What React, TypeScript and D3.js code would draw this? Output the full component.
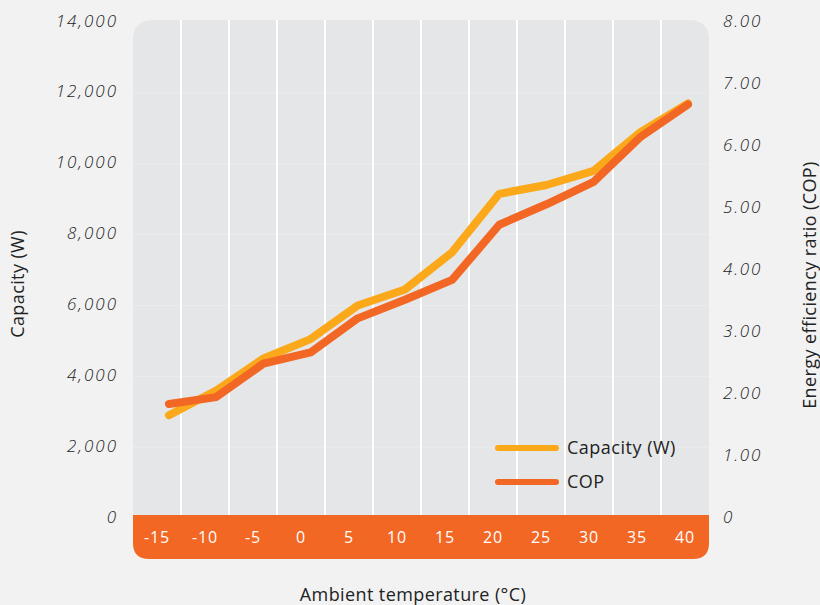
import React from "react";
import * as d3 from "d3";

// data
const temps = ["-15", "-10", "-5", "0", "5", "10", "15", "20", "25", "30", "35", "40"];
const capacity = [2900, 3600, 4500, 5050, 6000, 6450, 7500, 9150, 9400, 9800, 10900, 11700];
const cop = [1.84, 1.95, 2.49, 2.67, 3.22, 3.52, 3.84, 4.73, 5.06, 5.42, 6.15, 6.67];
const capTicks = [0, 2000, 4000, 6000, 8000, 10000, 12000, 14000];
const copTicks = [0, 1, 2, 3, 4, 5, 6, 7, 8];

const W = 820;
const H = 605;
const left = 133;
const right = 709;
const top = 20;
const bandTop = 515;
const bandBottom = 559;

const YELLOW = "#FBA91B";
const ORANGE = "#F26724";
const font = "'Open Sans', Lato, sans-serif";

const App = () => {
    const xBand = d3.scaleBand<string>().domain(temps).range([left, right]);
    // the lines sit a little off the band centres in the original
    const xLine = d3.scalePoint<string>().domain(temps).range([169, 688]);
    const yCap = d3.scaleLinear().domain([0, 14000]).range([518, 22]);
    const yCop = d3.scaleLinear().domain([0, 8]).range([518, 22]);

    const capLine = d3
        .line<number>()
        .x((d, i) => xLine(temps[i]) as number)
        .y((d) => yCap(d));
    const copLine = d3
        .line<number>()
        .x((d, i) => xLine(temps[i]) as number)
        .y((d) => yCop(d));

    const r = 20;
    const plotPath = `M${left},${bandTop} V${top + r} Q${left},${top} ${left + r},${top} H${right - r} Q${right},${top} ${right},${top + r} V${bandTop} Z`;
    const rb = 16;
    const bandPath = `M${left},${bandTop} H${right} V${bandBottom - rb} Q${right},${bandBottom} ${right - rb},${bandBottom} H${left + rb} Q${left},${bandBottom} ${left},${bandBottom - rb} Z`;

    const fmtCap = d3.format(",");
    const fmtCop = (v: number) => (v === 0 ? "0" : v.toFixed(2));

    return (
        <svg
            width={W}
            height={H}
            style={{ position: "absolute", left: 0, top: 0, display: "block" }}
        >
            <rect width={W} height={H} fill="#f2f2f2" />
            <path d={plotPath} fill="#e5e6e8" />

            {/* faint horizontal grid */}
            {capTicks.slice(1, -1).map((t) => (
                <line
                    key={"h" + t}
                    x1={left}
                    x2={right}
                    y1={yCap(t)}
                    y2={yCap(t)}
                    stroke="#ebecee"
                    strokeWidth={1}
                />
            ))}

            {/* white vertical grid between categories */}
            {temps.slice(1).map((t) => (
                <line
                    key={"v" + t}
                    x1={xBand(t)}
                    x2={xBand(t)}
                    y1={top}
                    y2={bandTop}
                    stroke="#ffffff"
                    strokeWidth={2}
                />
            ))}

            <path d={bandPath} fill={ORANGE} />
            {temps.map((t) => (
                <text
                    key={"x" + t}
                    x={(xBand(t) as number) + xBand.bandwidth() / 2}
                    y={539}
                    textAnchor="middle"
                    dominantBaseline="middle"
                    fill="#ffffff"
                    fontFamily={font}
                    fontSize={16}
                    letterSpacing={0.8}
                >
                    {t}
                </text>
            ))}

            {/* left axis */}
            {capTicks.map((t) => (
                <text
                    key={"l" + t}
                    x={118}
                    y={yCap(t)}
                    textAnchor="end"
                    dominantBaseline="middle"
                    fill="#222222"
                    fontFamily={font}
                    fontStyle="italic"
                    fontWeight={300}
                    fontSize={17}
                    letterSpacing={2}
                >
                    {fmtCap(t)}
                </text>
            ))}
            {/* right axis */}
            {copTicks.map((t) => (
                <text
                    key={"r" + t}
                    x={723}
                    y={yCop(t)}
                    textAnchor="start"
                    dominantBaseline="middle"
                    fill="#222222"
                    fontFamily={font}
                    fontStyle="italic"
                    fontWeight={300}
                    fontSize={17}
                    letterSpacing={1.8}
                >
                    {fmtCop(t)}
                </text>
            ))}

            <path
                d={capLine(capacity) as string}
                fill="none"
                stroke={YELLOW}
                strokeWidth={8}
                strokeLinecap="round"
                strokeLinejoin="round"
            />
            <path
                d={copLine(cop) as string}
                fill="none"
                stroke={ORANGE}
                strokeWidth={8}
                strokeLinecap="round"
                strokeLinejoin="round"
            />

            {/* legend */}
            <g fontFamily={font} fontSize={18} letterSpacing={0.5} fill="#222222">
                <line x1={498} x2={556} y1={448} y2={448} stroke={YELLOW} strokeWidth={6} strokeLinecap="round" />
                <text x={567} y={449} dominantBaseline="middle">Capacity (W)</text>
                <line x1={498} x2={556} y1={482} y2={482} stroke={ORANGE} strokeWidth={6} strokeLinecap="round" />
                <text x={567} y={483} dominantBaseline="middle">COP</text>
            </g>

            {/* axis titles */}
            <g fontFamily={font} fontSize={18} letterSpacing={0.4} fill="#222222" textAnchor="middle">
                <text transform="translate(24,284) rotate(-90)">Capacity (W)</text>
                <text transform="translate(816,285) rotate(-90)">Energy efficiency ratio (COP)</text>
                <text x={413} y={601}>Ambient temperature (°C)</text>
            </g>
        </svg>
    );
};

export default App;
